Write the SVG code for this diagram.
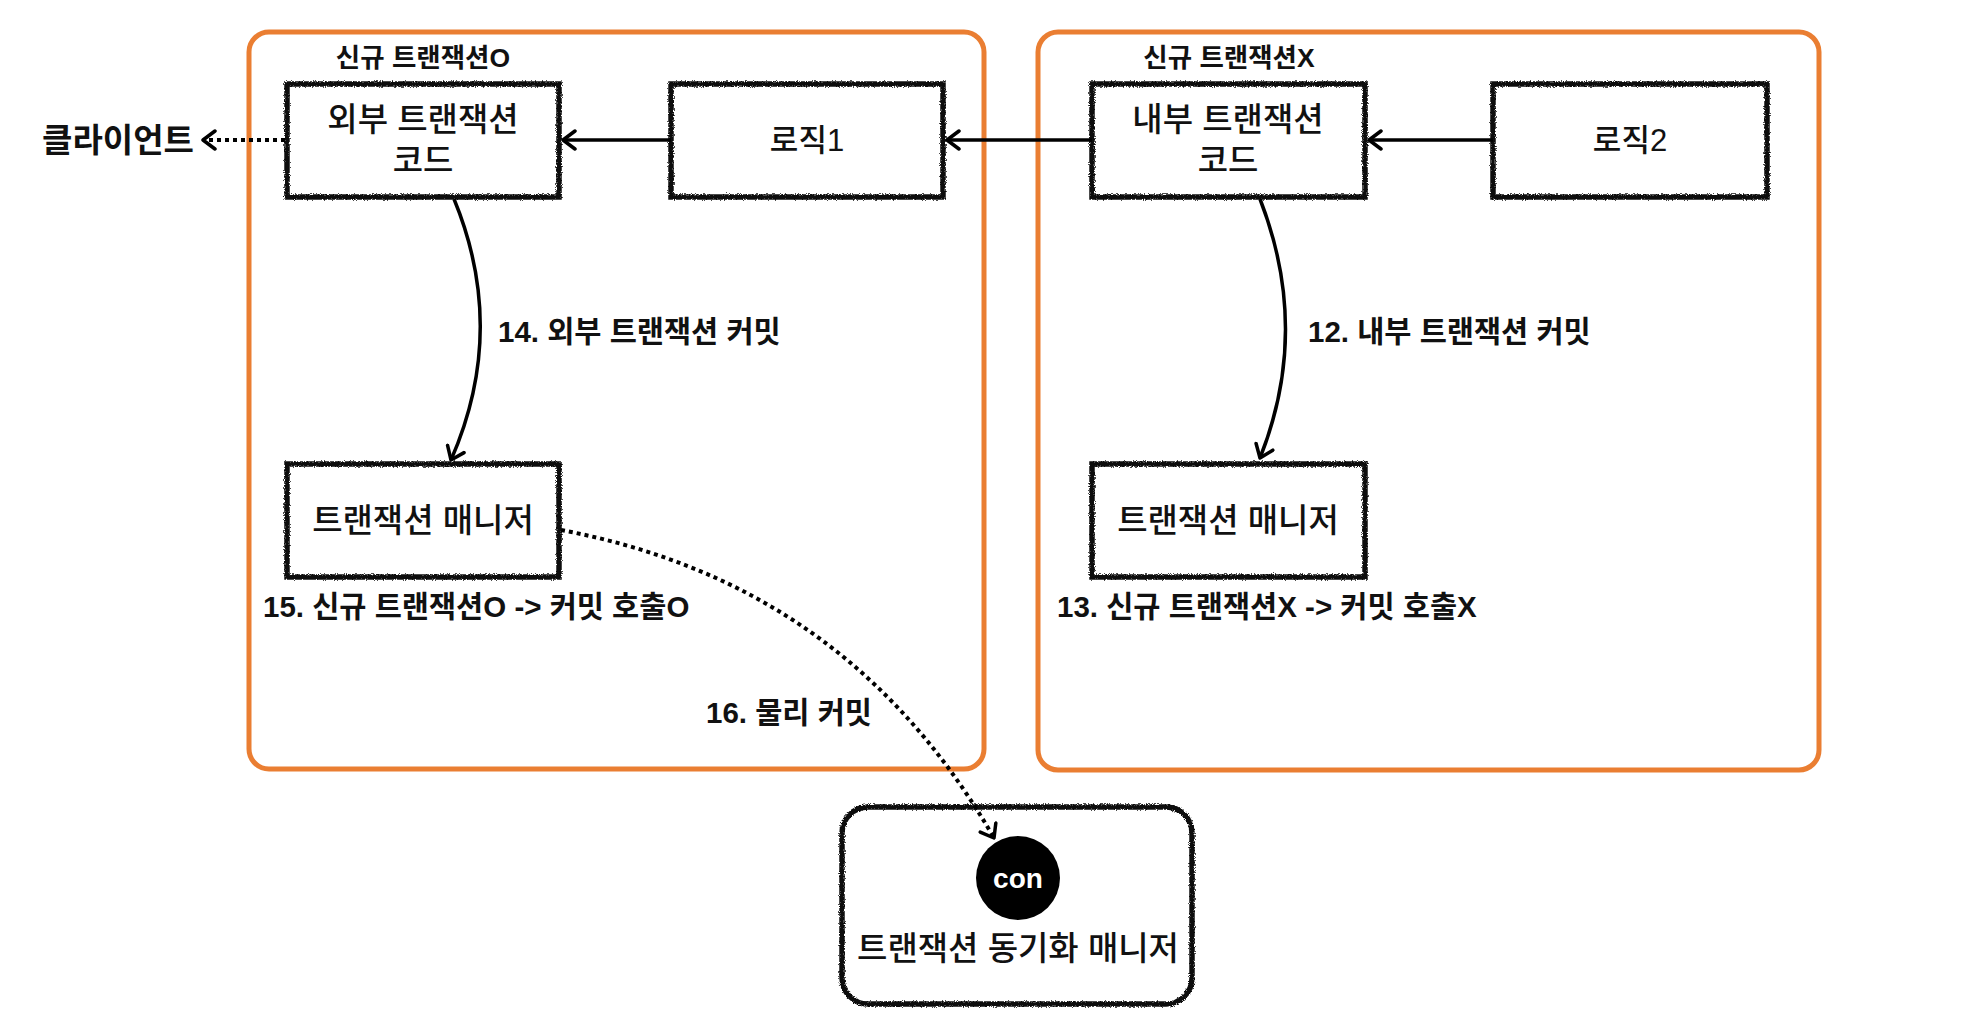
<svg xmlns="http://www.w3.org/2000/svg" width="1966" height="1036" viewBox="0 0 1966 1036">
<style>
.cont{fill:none;stroke:#EA7E32;stroke-width:5}
.box{fill:#fff;stroke:none}
.bord{fill:none;stroke:#111;stroke-width:5.5;filter:url(#rough)}
.t{font-family:"Liberation Sans","Noto Sans CJK KR",sans-serif;fill:#111;text-anchor:middle;dominant-baseline:central}
.reg{font-size:33px;font-weight:500}
.lbl{font-size:29.5px;font-weight:700;text-anchor:start}
.ttl{font-size:26.5px;font-weight:700}
.ln{fill:none;stroke:#000;stroke-width:3.5}
.dot{fill:none;stroke:#000;stroke-width:4;stroke-dasharray:4 4}
</style>
<defs>
<filter id="rough" x="-5%" y="-5%" width="110%" height="110%">
<feTurbulence type="fractalNoise" baseFrequency="0.9" numOctaves="2" seed="3" result="n"/>
<feDisplacementMap in="SourceGraphic" in2="n" scale="4" xChannelSelector="R" yChannelSelector="G"/>
</filter>
<marker id="ah" viewBox="0 0 16 22" refX="14" refY="11" markerWidth="16" markerHeight="22" markerUnits="userSpaceOnUse" orient="auto">
<path d="M2 2 L14 11 L2 20" fill="none" stroke="#000" stroke-width="3.5" stroke-linecap="round" stroke-linejoin="round"/>
</marker>
</defs>

<g id="container-left">
<rect class="cont" x="249" y="32" width="735" height="737" rx="20"/>
<text class="t ttl" x="423" y="58">신규 트랜잭션O</text>
</g>
<g id="container-right">
<rect class="cont" x="1038" y="32" width="781" height="738" rx="20"/>
<text class="t ttl" x="1229" y="58">신규 트랜잭션X</text>
</g>

<g id="client">
<text class="t" x="118" y="140" style="font-size:33px;font-weight:700">클라이언트</text>
</g>

<g id="outer-code">
<rect class="box" x="287" y="84" width="272" height="113"/>
<rect class="bord" x="287" y="84" width="272" height="113"/>
<text class="t reg" x="423" y="119">외부 트랜잭션</text>
<text class="t reg" x="423" y="160">코드</text>
</g>
<g id="logic1">
<rect class="box" x="671" y="84" width="272" height="113"/>
<rect class="bord" x="671" y="84" width="272" height="113"/>
<text class="t reg" x="807" y="140" style="font-size:31px">로직1</text>
</g>
<g id="inner-code">
<rect class="box" x="1092" y="84" width="273" height="113"/>
<rect class="bord" x="1092" y="84" width="273" height="113"/>
<text class="t reg" x="1228" y="119">내부 트랜잭션</text>
<text class="t reg" x="1228" y="160">코드</text>
</g>
<g id="logic2">
<rect class="box" x="1493" y="84" width="274" height="113"/>
<rect class="bord" x="1493" y="84" width="274" height="113"/>
<text class="t reg" x="1630" y="140" style="font-size:31px">로직2</text>
</g>
<g id="tm-left">
<rect class="box" x="287" y="464" width="272" height="113"/>
<rect class="bord" x="287" y="464" width="272" height="113"/>
<text class="t reg" x="423" y="520">트랜잭션 매니저</text>
</g>
<g id="tm-right">
<rect class="box" x="1092" y="464" width="273" height="113"/>
<rect class="bord" x="1092" y="464" width="273" height="113"/>
<text class="t reg" x="1228" y="520">트랜잭션 매니저</text>
</g>
<g id="sync-manager">
<rect class="box" x="842" y="807" width="350" height="197" rx="26"/>
<rect class="bord" x="842" y="807" width="350" height="197" rx="26"/>
<circle cx="1018" cy="878" r="42" fill="#000"/>
<text class="t" x="1018" y="878" style="font-size:28px;font-weight:700;fill:#fff">con</text>
<text class="t reg" x="1018" y="948">트랜잭션 동기화 매니저</text>
</g>

<g id="connectors">
<line class="dot" x1="285" y1="140" x2="203" y2="140" marker-end="url(#ah)"/>
<line class="ln" x1="671" y1="140" x2="563" y2="140" marker-end="url(#ah)"/>
<line class="ln" x1="1092" y1="140" x2="947" y2="140" marker-end="url(#ah)"/>
<line class="ln" x1="1493" y1="140" x2="1369" y2="140" marker-end="url(#ah)"/>
<path class="ln" d="M454 199 Q508 330 451 460" marker-end="url(#ah)"/>
<path class="ln" d="M1260 199 Q1311 330 1260 458" marker-end="url(#ah)"/>
<path class="dot" d="M561 530 C720 560 880 640 994 838" marker-end="url(#ah)"/>
<text class="t lbl" x="498" y="331">14. 외부 트랜잭션 커밋</text>
<text class="t lbl" x="1308" y="331">12. 내부 트랜잭션 커밋</text>
<text class="t lbl" x="263" y="606">15. 신규 트랜잭션O -&gt; 커밋 호출O</text>
<text class="t lbl" x="1057" y="606">13. 신규 트랜잭션X -&gt; 커밋 호출X</text>
<text class="t lbl" x="706" y="712">16. 물리 커밋</text>
</g>
</svg>
